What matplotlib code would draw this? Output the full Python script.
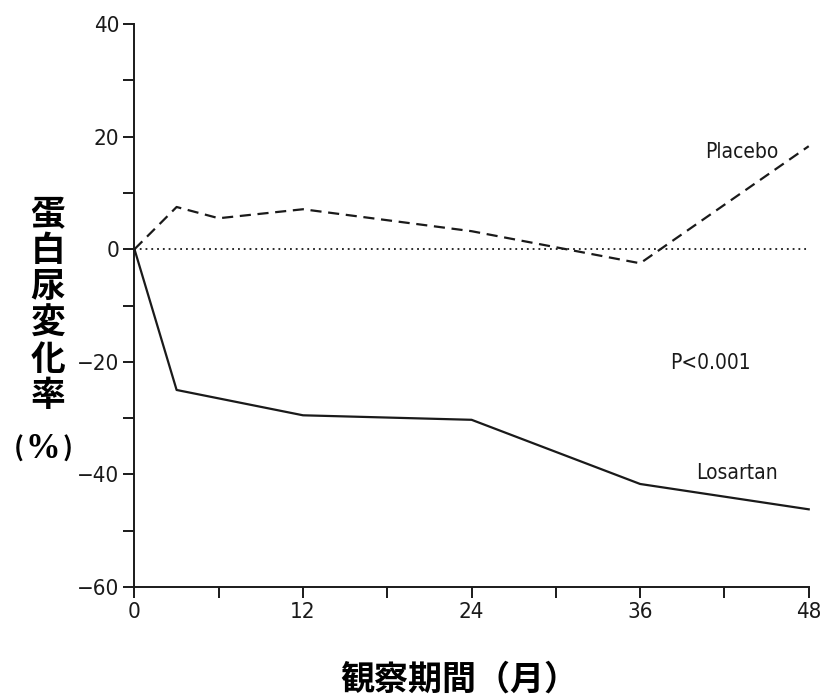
import numpy as np
import matplotlib
matplotlib.use("Agg")
from matplotlib import pyplot as plt
from matplotlib.ticker import MultipleLocator
from matplotlib import font_manager

# Follow-up months and percentage change in proteinuria
months = [0, 3, 6, 12, 24, 36, 48]
placebo = [0, 7.5, 5.5, 7.1, 3.2, -2.5, 18.3]
losartan_months = [0, 3, 12, 24, 36, 48]
losartan = [0, -25.0, -29.5, -30.3, -41.7, -46.2]

x_ticks = [0, 12, 24, 36, 48]
y_ticks = [-60, -40, -20, 0, 20, 40]

ylabel_chars = "蛋白尿変化率"
xlabel = "観察期間（月）"

# condensed face for the numbers
num_prop = font_manager.FontProperties(family="DejaVu Sans", stretch="condensed", size=16)
lbl_prop = font_manager.FontProperties(family="DejaVu Sans", stretch="condensed", size=15)
cjk_font = ["Noto Sans CJK JP", "DejaVu Sans"]

fig = plt.figure(figsize=(8.27, 6.98), dpi=100)
ax = fig.add_axes([0.1626, 0.159, 0.8204, 0.8066])

ax.plot(months, placebo, color="#1a1a1a", lw=1.6, linestyle=(0, (5, 3)))
ax.plot(losartan_months, losartan, color="#1a1a1a", lw=1.6)
ax.plot([0, 48], [0, 0], color="#1a1a1a", lw=1.3, linestyle=(0, (1, 2.2)))

ax.set_xlim(0, 48.3)
ax.set_ylim(-60, 40)

for s in ["top", "right"]:
    ax.spines[s].set_visible(False)
for s in ["left", "bottom"]:
    ax.spines[s].set_linewidth(1.4)
    ax.spines[s].set_color("#1a1a1a")
ax.spines["bottom"].set_bounds(0, 48)

ax.set_xticks(x_ticks)
ax.set_yticks(y_ticks)
ax.xaxis.set_minor_locator(MultipleLocator(6))
ax.yaxis.set_minor_locator(MultipleLocator(10))
ax.tick_params(which="both", direction="out", length=8, width=1.4, color="#1a1a1a")
ax.tick_params(axis="x", pad=3)
ax.tick_params(axis="y", pad=3)

for lab in ax.get_xticklabels() + ax.get_yticklabels():
    lab.set_fontproperties(num_prop)
    lab.set_color("#1a1a1a")

ax.text(43.2, 17.3, "Placebo", fontproperties=lbl_prop, color="#1a1a1a", ha="center", va="center")
ax.text(41.0, -20.2, "P<0.001", fontproperties=lbl_prop, color="#1a1a1a", ha="center", va="center")
ax.text(42.9, -39.8, "Losartan", fontproperties=lbl_prop, color="#1a1a1a", ha="center", va="center")

# vertical (stacked) y-axis label
fig.text(48 / 827, 1 - 305 / 698, "\n".join(ylabel_chars), family=cjk_font,
         fontsize=25, fontweight="bold", ha="center", va="center", linespacing=1.04)
# unit "(%)" under it
unit_y = 1 - 449 / 698
fig.text(19 / 827, unit_y, "(", family=cjk_font, fontsize=19, fontweight="bold", ha="center", va="center")
fig.text(43 / 827, unit_y, "%", family="Liberation Serif", fontsize=25, fontweight="bold", ha="center", va="center")
fig.text(68 / 827, unit_y, ")", family=cjk_font, fontsize=19, fontweight="bold", ha="center", va="center")

fig.text(459 / 827, 1 - 679 / 698, xlabel, family=cjk_font,
         fontsize=24.5, fontweight="bold", ha="center", va="center")

fig.savefig("out.png", dpi=100, facecolor="white")
